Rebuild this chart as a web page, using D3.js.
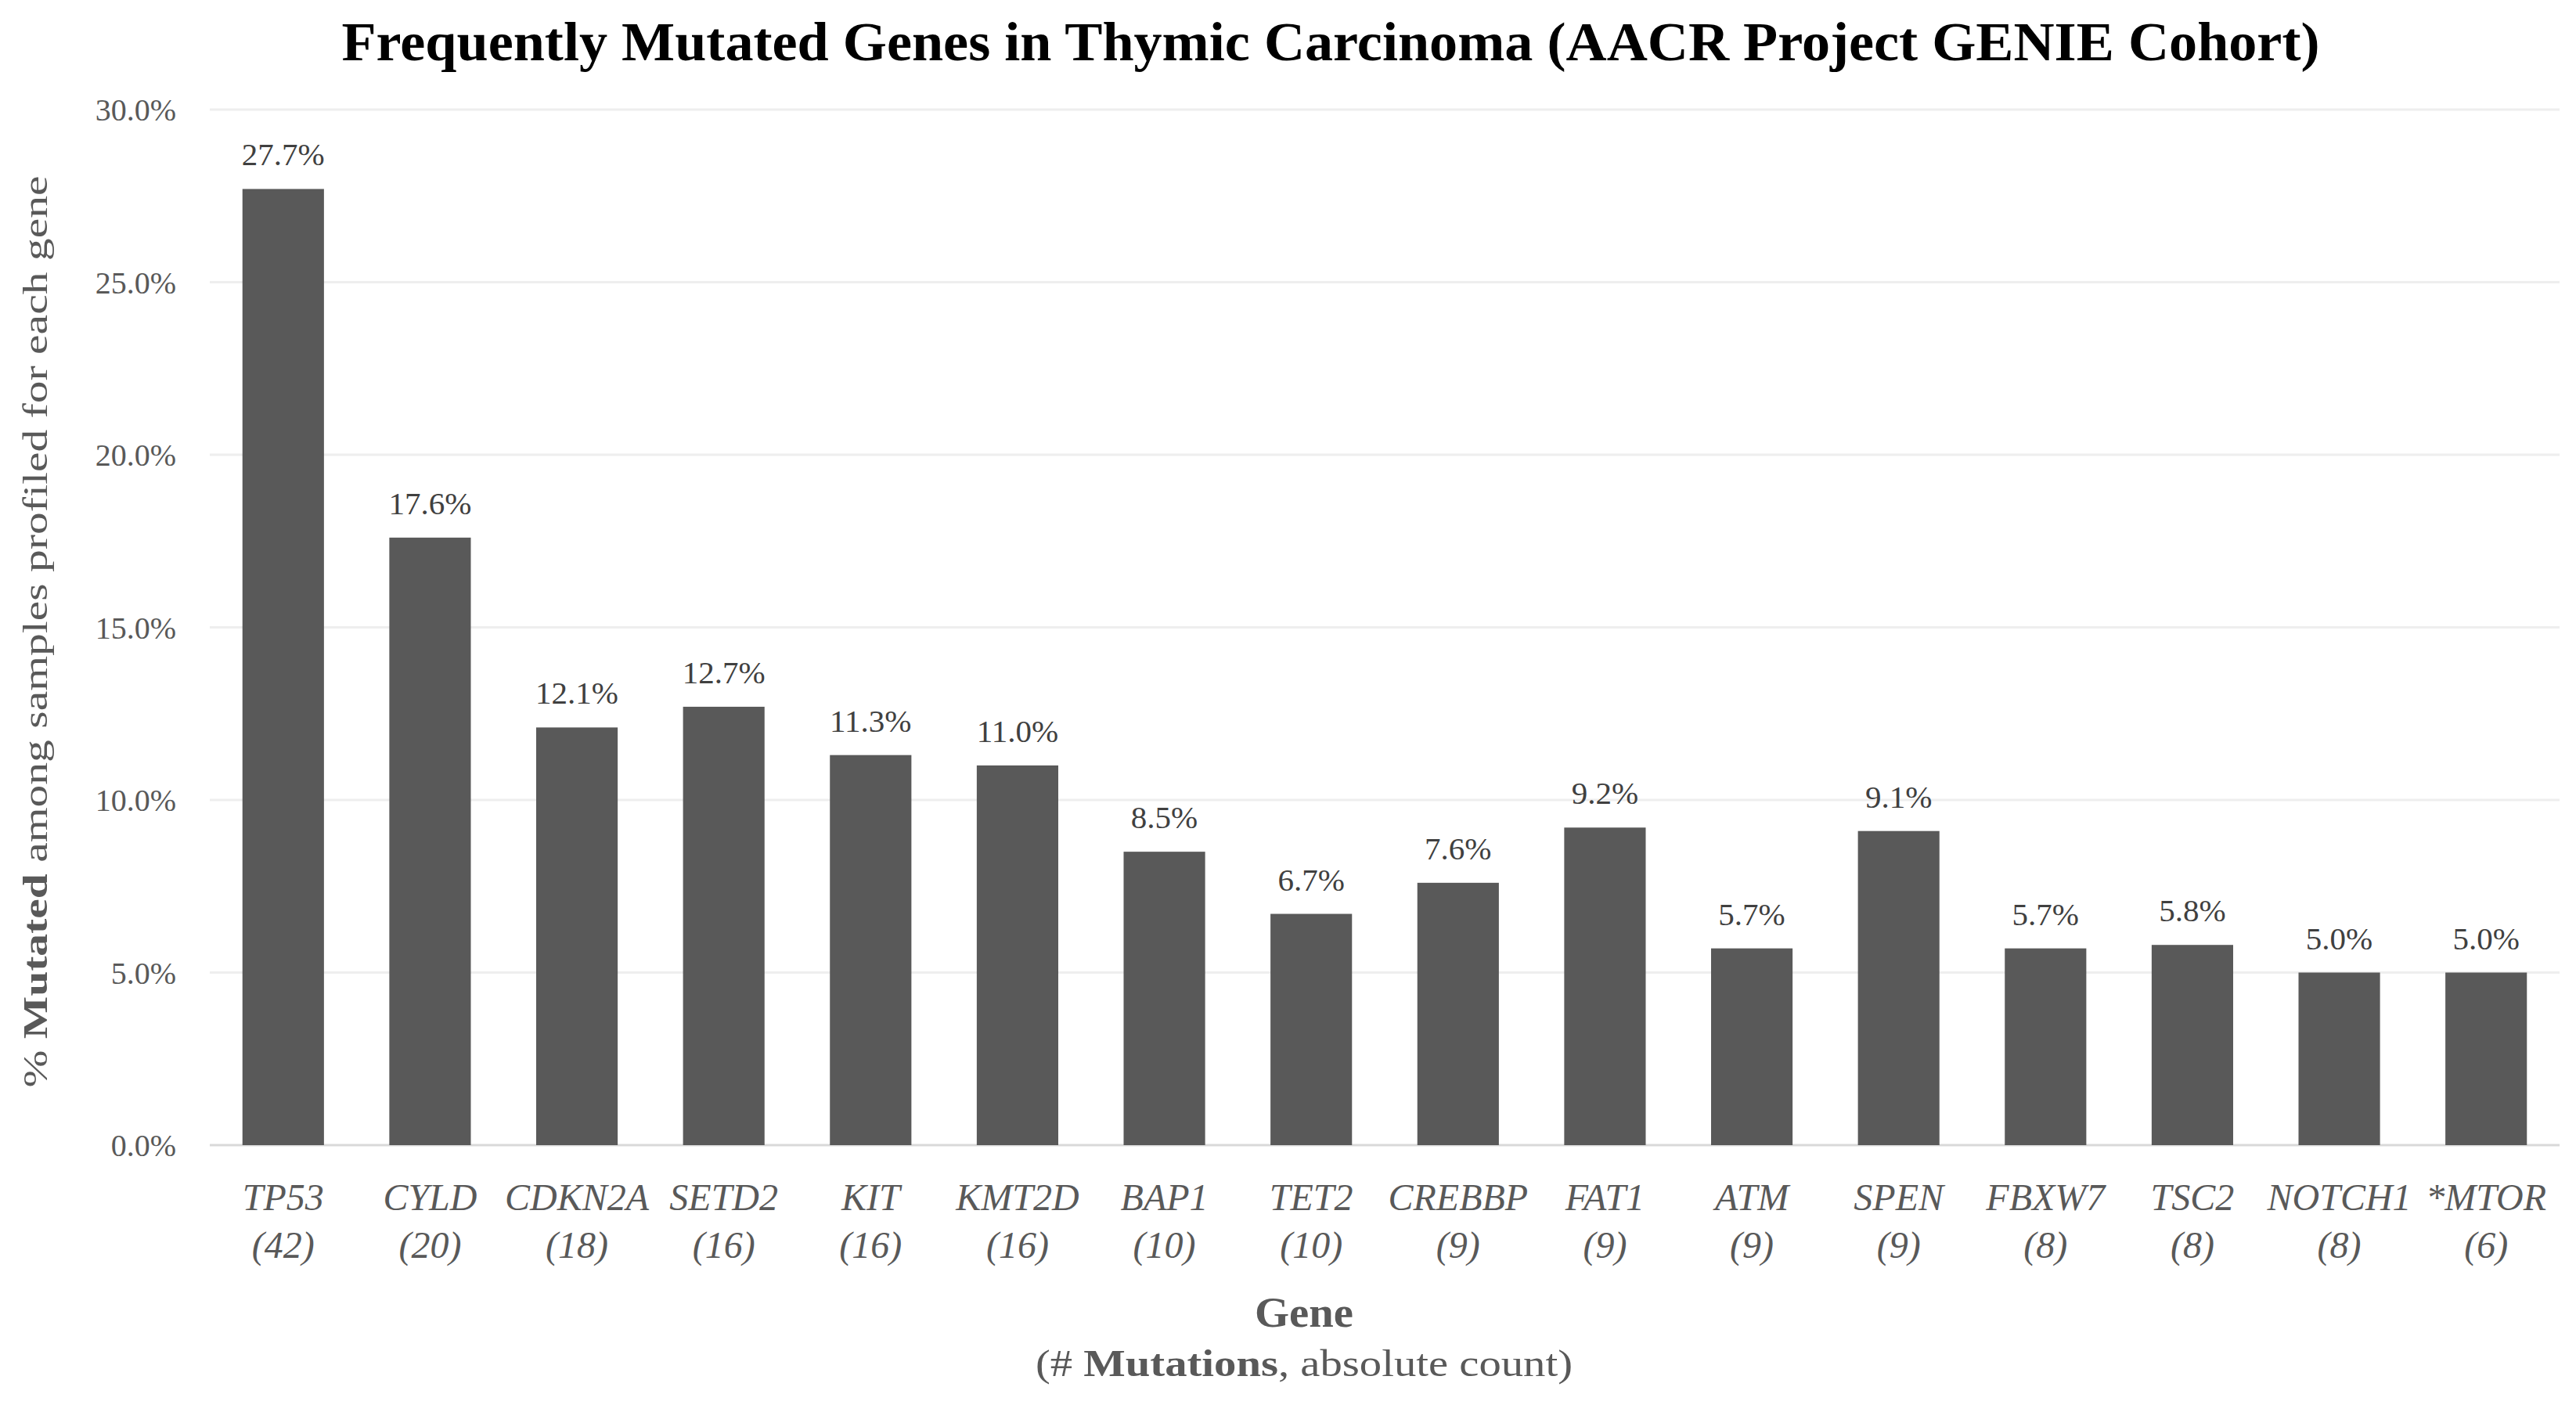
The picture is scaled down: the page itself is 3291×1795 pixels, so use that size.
<!DOCTYPE html>
<html>
<head>
<meta charset="utf-8">
<script src="https://cdn.jsdelivr.net/npm/d3@7"></script>
<style>
  html, body { margin: 0; padding: 0; background: #ffffff; }
  svg { display: block; }
</style>
</head>
<body>
<div id="chart"></div>
<script>
// ---- Data ----
const genes = ["TP53", "CYLD", "CDKN2A", "SETD2", "KIT", "KMT2D", "BAP1", "TET2", "CREBBP", "FAT1", "ATM", "SPEN", "FBXW7", "TSC2", "NOTCH1", "*MTOR"];
const mutationCounts = [42, 20, 18, 16, 16, 16, 10, 10, 9, 9, 9, 9, 8, 8, 8, 6];
const percentMutated = [27.7, 17.6, 12.1, 12.7, 11.3, 11.0, 8.5, 6.7, 7.6, 9.2, 5.7, 9.1, 5.7, 5.8, 5.0, 5.0];
const yTicks = [0, 5, 10, 15, 20, 25, 30];

const chartTitle = "Frequently Mutated Genes in Thymic Carcinoma (AACR Project GENIE Cohort)";
const xTitle = "Gene";

// ---- Layout ----
const W = 3291, H = 1795;
const plot = { left: 268, right: 3270, top: 140, bottom: 1463 };
const FONT = "'Liberation Serif', 'Times New Roman', serif";

const svg = d3.select("#chart").append("svg")
  .attr("width", W).attr("height", H)
  .attr("viewBox", `0 0 ${W} ${H}`)
  .style("font-family", FONT);

svg.append("rect").attr("width", W).attr("height", H).attr("fill", "#ffffff");

const x = d3.scaleBand()
  .domain(genes)
  .range([plot.left, plot.right])
  .paddingInner(0.445)
  .paddingOuter(0.2225);

const y = d3.scaleLinear()
  .domain([0, 30])
  .range([plot.bottom, plot.top]);

function fit(sel, width) {
  sel.attr("textLength", width).attr("lengthAdjust", "spacingAndGlyphs");
  return sel;
}

// ---- Gridlines ----
const grid = svg.append("g");
grid.selectAll("line")
  .data(yTicks)
  .join("line")
  .attr("x1", plot.left).attr("x2", plot.right)
  .attr("y1", d => y(d)).attr("y2", d => y(d))
  .attr("stroke", d => d === 0 ? "#d9d9d9" : "#eeeeee")
  .attr("stroke-width", 3);

// ---- Y axis ticks (via d3 axis) ----
const yAxis = d3.axisLeft(y)
  .tickValues(yTicks)
  .tickFormat(d => d3.format(".1f")(d) + "%")
  .tickSize(0)
  .tickPadding(0);

const yAxisG = svg.append("g")
  .attr("transform", `translate(${225},0)`)
  .call(yAxis);
yAxisG.select(".domain").remove();
yAxisG.selectAll("text")
  .attr("font-family", FONT)
  .attr("font-size", 40)
  .attr("fill", "#595959")
  .attr("x", 0)
  .attr("dy", "0.34em");

// ---- Bars ----
svg.append("g").selectAll("rect")
  .data(genes)
  .join("rect")
  .attr("x", d => x(d))
  .attr("width", x.bandwidth())
  .attr("y", (d, i) => y(percentMutated[i]))
  .attr("height", (d, i) => y(0) - y(percentMutated[i]))
  .attr("fill", "#595959");

// ---- Value labels ----
svg.append("g").selectAll("text")
  .data(genes)
  .join("text")
  .attr("x", d => x(d) + x.bandwidth() / 2)
  .attr("y", (d, i) => y(percentMutated[i]) - 30)
  .attr("text-anchor", "middle")
  .attr("font-size", 41)
  .attr("fill", "#404040")
  .text((d, i) => d3.format(".1f")(percentMutated[i]) + "%");

// ---- X axis labels (gene names + counts) ----
const xAxis = d3.axisBottom(x).tickSize(0).tickPadding(0).tickFormat(() => "");
const xAxisG = svg.append("g")
  .attr("transform", `translate(0,${plot.bottom})`)
  .call(xAxis);
xAxisG.select(".domain").remove();
xAxisG.selectAll(".tick text").remove();
xAxisG.selectAll(".tick").each(function(d, i) {
  const t = d3.select(this).append("text")
    .attr("text-anchor", "middle")
    .attr("font-family", FONT)
    .attr("font-style", "italic")
    .attr("font-size", 48)
    .attr("fill", "#595959");
  t.append("tspan").attr("x", 0).attr("y", 1546 - plot.bottom).text(d);
  t.append("tspan").attr("x", 0).attr("y", 1607 - plot.bottom).text("(" + mutationCounts[i] + ")");
});

// ---- Title ----
fit(svg.append("text")
  .attr("x", 1700).attr("y", 77)
  .attr("text-anchor", "middle")
  .attr("font-size", 70)
  .attr("font-weight", "bold")
  .attr("fill", "#000000")
  .text(chartTitle), 2527);

// ---- X axis title ----
fit(svg.append("text")
  .attr("x", 1666).attr("y", 1695)
  .attr("text-anchor", "middle")
  .attr("font-size", 54)
  .attr("font-weight", "bold")
  .attr("fill", "#595959")
  .text(xTitle), 126);

const sub = svg.append("text")
  .attr("x", 1666).attr("y", 1758)
  .attr("text-anchor", "middle")
  .attr("font-size", 48)
  .attr("fill", "#595959");
sub.append("tspan").text("(# ");
sub.append("tspan").attr("font-weight", "bold").text("Mutations");
sub.append("tspan").text(", absolute count)");
fit(sub, 686);

// ---- Y axis title ----
const yt = svg.append("text")
  .attr("transform", "translate(60,807) rotate(-90)")
  .attr("text-anchor", "middle")
  .attr("font-size", 45)
  .attr("fill", "#595959");
yt.append("tspan").text("% ");
yt.append("tspan").attr("font-weight", "bold").text("Mutated");
yt.append("tspan").text(" among samples profiled for each gene");
fit(yt, 1165);
</script>
</body>
</html>
